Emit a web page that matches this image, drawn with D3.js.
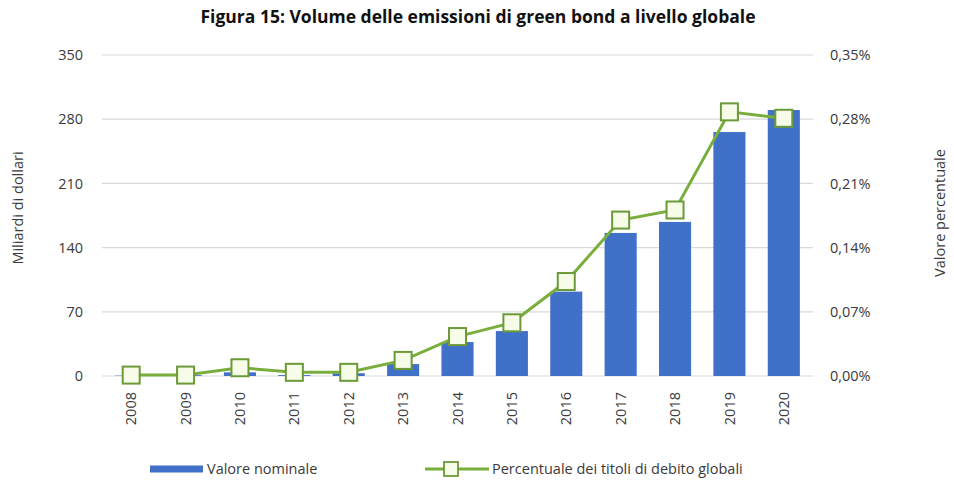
<!DOCTYPE html>
<html><head><meta charset="utf-8">
<script src="https://cdn.jsdelivr.net/npm/d3@7"></script>
<style>body{margin:0;background:#fff}svg{display:block}text{font-family:"Open Sans",sans-serif}</style>
</head><body><svg id="c" width="954" height="482"></svg>
<script>
const years = ["2008","2009","2010","2011","2012","2013","2014","2015","2016","2017","2018","2019","2020"];
const nominal = [0.4, 0.9, 4, 1, 3, 13, 37, 49, 92, 156, 168, 266, 290];
const percent = [0.001, 0.001, 0.009, 0.004, 0.004, 0.017, 0.043, 0.058, 0.103, 0.170, 0.181, 0.288, 0.281];
const leftTicks = [0, 70, 140, 210, 280, 350];
const rightTicks = [0, 0.07, 0.14, 0.21, 0.28, 0.35];

const svg = d3.select("#c");
const L = 104, R = 811, T = 55, B = 376;
const FS = 14.5, TXT = "#3a3a3a";
const x = d3.scaleBand().domain(years).range([L, R]).paddingInner(0.41).paddingOuter(0.205);
const yL = d3.scaleLinear().domain([0, 350]).range([B, T]);
const yR = d3.scaleLinear().domain([0, 0.35]).range([B, T]);

svg.append("text").attr("x", 478).attr("y", 23).attr("text-anchor", "middle")
  .attr("font-size", 17.5).attr("font-weight", "bold").attr("fill", "#111")
  .text("Figura 15: Volume delle emissioni di green bond a livello globale");

svg.append("g").selectAll("line").data(leftTicks).join("line")
  .attr("x1", 102).attr("x2", 813).attr("y1", d => yL(d)).attr("y2", d => yL(d))
  .attr("stroke", "#d9d9d9").attr("stroke-width", 1.2);

const gl = svg.append("g").attr("transform", `translate(${L - 21},0)`)
  .call(d3.axisLeft(yL).tickValues(leftTicks).tickSize(0).tickPadding(0));
gl.select(".domain").remove();
gl.selectAll("text").attr("font-size", FS).attr("fill", TXT).attr("font-family", "Open Sans");

const gr = svg.append("g").attr("transform", `translate(${R + 19},0)`)
  .call(d3.axisRight(yR).tickValues(rightTicks).tickSize(0).tickPadding(0).tickFormat(d => d.toFixed(2).replace(".", ",") + "%"));
gr.select(".domain").remove();
gr.selectAll("text").attr("font-size", FS).attr("fill", TXT).attr("font-family", "Open Sans");

svg.append("g").selectAll("rect").data(nominal).join("rect")
  .attr("x", (d, i) => x(years[i])).attr("width", x.bandwidth())
  .attr("y", d => yL(d)).attr("height", d => yL(0) - yL(d)).attr("fill", "#4170c8");

const gx = svg.append("g").attr("transform", `translate(0,${B + 16})`)
  .call(d3.axisBottom(x).tickSize(0).tickPadding(0));
gx.select(".domain").remove();
gx.selectAll("text").attr("font-size", FS).attr("fill", TXT).attr("font-family", "Open Sans")
  .attr("transform", "rotate(-90)").attr("text-anchor", "end").attr("dx", 0).attr("dy", "0.35em").attr("x", 0).attr("y", 0);

const line = d3.line().x((d, i) => x(years[i]) + x.bandwidth() / 2).y(d => yR(d));
svg.append("path").datum(percent).attr("d", line).attr("fill", "none")
  .attr("stroke", "#7aae3c").attr("stroke-width", 3);
const M = 17;
svg.append("g").selectAll("rect").data(percent).join("rect")
  .attr("x", (d, i) => x(years[i]) + x.bandwidth() / 2 - M / 2).attr("y", d => yR(d) - M / 2)
  .attr("width", M).attr("height", M).attr("fill", "#f6fce8").attr("stroke", "#6c9a38").attr("stroke-width", 2);

svg.append("text").attr("transform", "translate(23,208) rotate(-90)").attr("text-anchor", "middle")
  .attr("font-size", FS).attr("fill", TXT).text("Miliardi di dollari");
svg.append("text").attr("transform", "translate(945,213) rotate(-90)").attr("text-anchor", "middle")
  .attr("font-size", FS).attr("fill", TXT).text("Valore percentuale");

const lg = svg.append("g");
const LY = 469;
lg.append("rect").attr("x", 150).attr("y", LY - 3.5).attr("width", 53).attr("height", 7).attr("fill", "#4170c8");
lg.append("text").attr("x", 207).attr("y", LY + 5).attr("font-size", FS).attr("fill", TXT).text("Valore nominale");
lg.append("line").attr("x1", 425).attr("x2", 489).attr("y1", LY).attr("y2", LY).attr("stroke", "#7aae3c").attr("stroke-width", 3);
lg.append("rect").attr("x", 451 - 7).attr("y", LY - 7).attr("width", 14).attr("height", 14)
  .attr("fill", "#f6fce8").attr("stroke", "#6c9a38").attr("stroke-width", 1.8);
lg.append("text").attr("x", 492).attr("y", LY + 5).attr("font-size", FS).attr("fill", TXT).text("Percentuale dei titoli di debito globali");
</script></body></html>
